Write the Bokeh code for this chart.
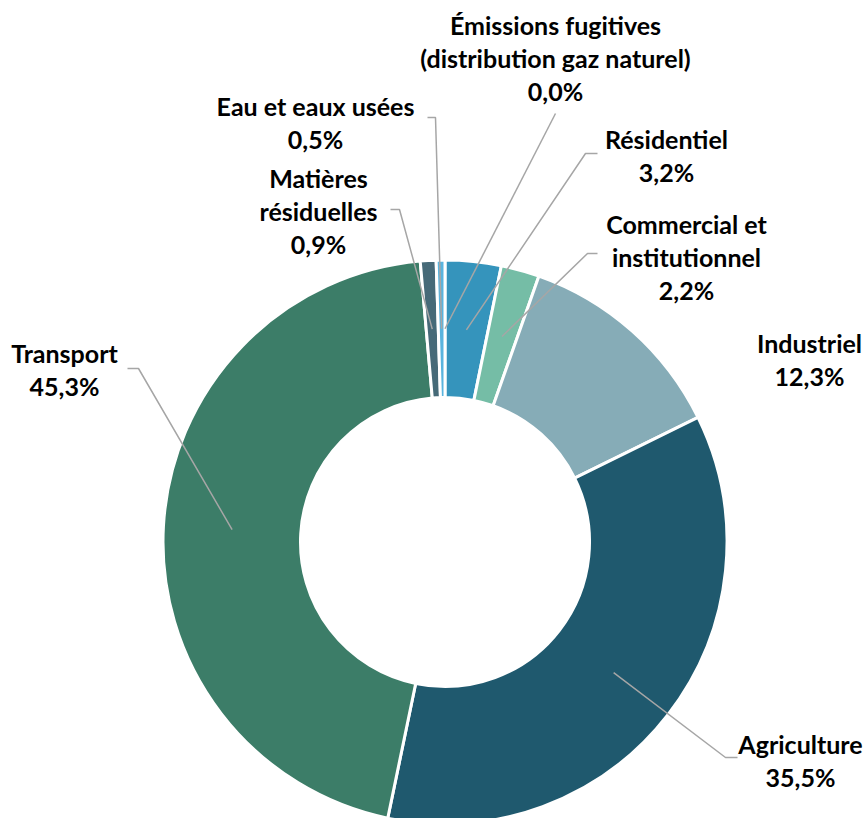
import math
from bokeh.plotting import figure
from bokeh.models import Range1d, ColumnDataSource
from bokeh.core.properties import value
from bokeh.embed import file_html
from bokeh.resources import INLINE

# ---- data ----
categories = [
    "Émissions fugitives (distribution gaz naturel)",
    "Résidentiel",
    "Commercial et institutionnel",
    "Industriel",
    "Agriculture",
    "Transport",
    "Matières résiduelles",
    "Eau et eaux usées",
]
label_names = [
    "Émissions fugitives\n(distribution gaz naturel)",
    "Résidentiel",
    "Commercial et\ninstitutionnel",
    "Industriel",
    "Agriculture",
    "Transport",
    "Matières\nrésiduelles",
    "Eau et eaux usées",
]
shares = [0.0, 3.2, 2.2, 12.3, 35.5, 45.3, 0.9, 0.5]
colors = ["#2E7FA6", "#3594BC", "#75BDA6", "#86ACB7", "#1F596E", "#3C7D68", "#466A78", "#5AB4DE"]

# ---- layout (screen pixels of the picture) ----
W, H = 864, 818
CX, CY = 444.5, 541.5
R_IN, R_OUT = 144.5, 282.0
R_MID = (R_IN + R_OUT) / 2
label_x = [555, 666, 686, 809, 800, 64, 318, 315]
label_y = [57.5, 155, 256, 358.5, 760, 369, 210, 121.5]
# leader knee points (label side) per category; None = no leader
knees = [
    [(555, 113)],
    [(597, 153), (585, 153)],
    [(597, 253), (587, 253)],
    None,
    [(737, 757), (725, 757)],
    [(127, 368), (138, 368)],
    [(390, 209), (399, 209)],
    [(427, 117), (435, 117)],
]

total = sum(shares)
fr = [s / total for s in shares]
starts, ends, mids = [], [], []
c = 0.0
for f in fr:
    starts.append(math.pi / 2 - c * 2 * math.pi)
    mids.append(c + f / 2)
    c += f
    ends.append(math.pi / 2 - c * 2 * math.pi)

def sy(y):
    return -y

p = figure(width=W, height=H, output_backend="svg", toolbar_location=None,
           x_range=Range1d(0, W), y_range=Range1d(-H, 0),
           min_border=0, x_axis_type=None, y_axis_type=None)
p.outline_line_color = None
p.xgrid.visible = False
p.ygrid.visible = False
p.background_fill_color = "white"
p.border_fill_color = "white"

src = ColumnDataSource(dict(start=starts, end=ends, color=colors, cat=categories))
p.annular_wedge(x=CX, y=sy(CY), inner_radius=R_IN, outer_radius=R_OUT,
                start_angle="start", end_angle="end", direction="clock",
                fill_color="color", line_color="white", line_width=3, source=src)

# leader lines
for k, m in zip(knees, mids):
    if k is None:
        continue
    ang = m * 2 * math.pi
    ex = CX + R_MID * math.sin(ang)
    ey = CY - R_MID * math.cos(ang)
    xs = [pt[0] for pt in k] + [ex]
    ys = [sy(pt[1]) for pt in k] + [sy(ey)]
    p.line(xs, ys, line_color="#A6A6A6", line_width=1.5)

texts = [f"{n}\n{s:.1f}".replace(".", ",") + "%" for n, s in zip(label_names, shares)]
p.text(x=label_x, y=[sy(v) for v in label_y], text=texts,
       text_font=value("Lato"), text_font_style="bold", text_font_size="25px",
       text_align="center", text_baseline="middle", text_line_height=1.1,
       text_color="#000000")

open("out.html", "w").write(file_html(p, INLINE))
